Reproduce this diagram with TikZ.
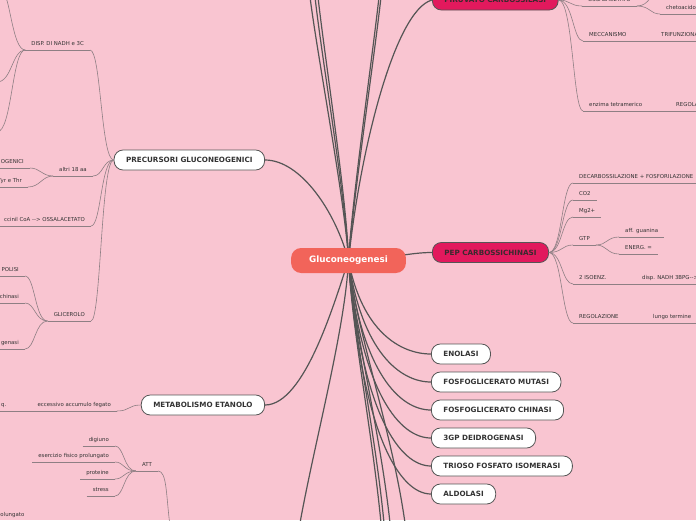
\documentclass[tikz,border=0pt]{standalone}
\usepackage{fontspec}
\setmainfont{DejaVu Sans}
\usetikzlibrary{positioning}
\pgfdeclarelayer{paper}
\pgfdeclarelayer{links}
\pgfsetlayers{paper,links,main}
\definecolor{paper}{HTML}{F9C5D1}
\definecolor{coral}{HTML}{F2645A}
\definecolor{enzred}{HTML}{E2195D}
\definecolor{enzink}{HTML}{3A2A2E}
\definecolor{ink}{HTML}{333333}
\definecolor{linkgray}{HTML}{555555}
\definecolor{twiggray}{HTML}{8E7F84}

\begin{document}
\begin{tikzpicture}[
    x=1pt, y=-1pt,
    every node/.style={text=ink},
    hub/.style={
        rectangle,
        rounded corners=10pt,
        fill=coral,
        text=white,
        font=\fontsize{8.8}{10}\selectfont\bfseries,
        minimum height=25pt,
        inner xsep=18pt
    },
    topic/.style={
        rectangle,
        rounded corners=9pt,
        draw=linkgray,
        fill=white,
        line width=0.8pt,
        font=\fontsize{7.2}{8}\selectfont\bfseries,
        minimum height=20pt,
        inner xsep=12pt
    },
    enzyme/.style={topic, fill=enzred, text=enzink},
    leaf/.style={font=\fontsize{5.4}{6}\selectfont, inner xsep=6pt, inner ysep=2.8pt, text height=4pt, text depth=1.2pt},
    leafl/.style={leaf, anchor=south east},
    leafr/.style={leaf, anchor=south west},
    link/.style={draw=linkgray, line width=1.2pt},
    twig/.style={draw=twiggray, line width=0.6pt}
]

\useasboundingbox (0,0) rectangle (696,520);
\begin{pgfonlayer}{paper}
    \fill[paper] (0,0) rectangle (696,520);
\end{pgfonlayer}
\clip (0,0) rectangle (696,520);

% MAIN TOPICS
\node[hub] (gluco) at (348.5,260.5) {Gluconeogenesi};

\node[topic, anchor=east] (prec)    at (265,160) {PRECURSORI GLUCONEOGENICI};
\node[topic, anchor=east] (etanolo) at (265,405) {METABOLISMO ETANOLO};

\node[enzyme, anchor=west] (piruvato) at (432,0)     {PIRUVATO CARBOSSILASI};
\node[enzyme, anchor=west] (pepck)    at (432,252.5) {PEP CARBOSSICHINASI};

\node[topic, anchor=west] (enolasi) at (431,354) {ENOLASI};
\node[topic, anchor=west] (mutasi)  at (431,382) {FOSFOGLICERATO MUTASI};
\node[topic, anchor=west] (pgk)     at (431,410) {FOSFOGLICERATO CHINASI};
\node[topic, anchor=west] (gapdh)   at (431,438) {3GP DEIDROGENASI};
\node[topic, anchor=west] (tpi)     at (431,466) {TRIOSO FOSFATO ISOMERASI};
\node[topic, anchor=west] (aldolasi) at (431,494) {ALDOLASI};

% branches leaving the picture
\coordinate (up1) at (310,-3);
\coordinate (up2) at (315,-3);
\coordinate (up3) at (318,-3);
\coordinate (up4) at (379,-3);
\coordinate (up5) at (381,-3);
\coordinate (dn1) at (300,523);
\coordinate (dn2) at (381,523);
\coordinate (dn3) at (384,523);
\coordinate (dn4) at (390,523);
\coordinate (dn5) at (405,523);

% LEFT LEAVES
\node[leafl] (disp)   at (90,50)   {DISP. DI NADH e 3C};
\node[leafl] (altri)  at (93,176)  {altri 18 aa};
\node[leafl] (succ)   at (91,226)  {ccinil CoA -{}-> OSSALACETATO};
\node[leafl] (glic)   at (91,321)  {GLICEROLO};
\node[leafl] (ogen)   at (30,168)  {OGENICI};
\node[leafl] (tyr)    at (28,187)  {Tyr e Thr};
\node[leafl] (polisi) at (25,276)  {POLISI};
\node[leafl] (chinasi) at (25,303) {chinasi};
\node[leafl] (genasi) at (25,349)  {genasi};
\coordinate (nadha) at (2,-8);
\coordinate (nadhb) at (-3,82);
\coordinate (nadhc) at (-3,132);

\node[leafl] (accumulo) at (117,411) {eccessivo accumulo fegato};
\node[leafl] (steat)    at (12.5,411) {q.};

\node[leafl] (att)      at (158,471) {ATT};
\node[leafl] (digiuno)  at (115,446) {digiuno};
\node[leafl] (esercizio) at (115,462) {esercizio fisico prolungato};
\node[leafl] (proteine) at (115,479) {proteine};
\node[leafl] (stress)   at (115,496) {stress};
\node[leafl] (prolung)  at (30.5,521) {olungato};
\coordinate (attpar) at (170,526);

% RIGHT LEAVES
\node[leafr] (ossal)   at (582,6)   {OSSALACETATO};
\node[leafr] (cheto)   at (660,14)  {chetoacido};
\node[leafr] (mecc)    at (583,41)  {MECCANISMO};
\node[leafr] (trifunz) at (655,41)  {TRIFUNZIONALE};
\node[leafr] (enzima)  at (583,111) {enzima tetramerico};
\node[leafr] (regol)   at (670,111) {REGOLAZIONE};
\coordinate (ossalup) at (660,-8);

\node[leafr] (decarb)  at (573,183) {DECARBOSSILAZIONE + FOSFORILAZIONE};
\node[leafr] (co2)     at (573,200) {CO2};
\node[leafr] (mg)      at (573,217) {Mg2+};
\node[leafr] (gtp)     at (573,245) {GTP};
\node[leafr] (guanina) at (619,237) {aff. guanina};
\node[leafr] (energ)   at (619,254) {ENERG. =};
\node[leafr] (isoenz)  at (573,284) {2 ISOENZ.};
\node[leafr] (nadh)    at (636,284) {disp. NADH 3BPG-{}->};
\node[leafr] (regolaz) at (573,323) {REGOLAZIONE};
\node[leafr] (lungo)   at (647,323) {lungo termine};

% UNDERLINES
\foreach \n in {disp, altri, succ, glic, ogen, tyr, polisi, chinasi, genasi,
    accumulo, steat, att, digiuno, esercizio, proteine, stress, prolung,
    ossal, cheto, mecc, trifunz, enzima, regol,
    decarb, co2, mg, gtp, guanina, energ, isoenz, nadh, regolaz, lungo}
    \draw[twig] (\n.south west) -- (\n.south east);

% MAIN CONNECTORS
\begin{pgfonlayer}{links}
\clip (0,0) rectangle (696,520);
\draw[link] (gluco.center) .. controls (335,210) and (300,160) .. (prec.east);
\draw[link] (gluco.center) .. controls (335,300) and (305,405) .. (etanolo.east);
\draw[link] (gluco.center) .. controls (360,150) and (395,10) .. (piruvato.west);
\draw[link] (gluco.center) .. controls (395,258) and (410,252.5) .. (pepck.west);
\draw[link] (gluco.center) .. controls (362,331) and (400,354) .. (enolasi.west);
\draw[link] (gluco.center) .. controls (362,352) and (400,382) .. (mutasi.west);
\draw[link] (gluco.center) .. controls (362,373) and (400,410) .. (pgk.west);
\draw[link] (gluco.center) .. controls (362,394) and (400,438) .. (gapdh.west);
\draw[link] (gluco.center) .. controls (362,415) and (400,466) .. (tpi.west);
\draw[link] (gluco.center) .. controls (362,436) and (400,494) .. (aldolasi.west);
\draw[link] (gluco.center) .. controls (345,200) and (318,60) .. (up1);
\draw[link] (gluco.center) .. controls (346,200) and (322,60) .. (up2);
\draw[link] (gluco.center) .. controls (347,200) and (325,60) .. (up3);
\draw[link] (gluco.center) .. controls (352,200) and (372,60) .. (up4);
\draw[link] (gluco.center) .. controls (353,200) and (374,60) .. (up5);
\draw[link] (gluco.center) .. controls (345,330) and (315,440) .. (dn1);
\draw[link] (gluco.center) .. controls (352,330) and (372,430) .. (dn2);
\draw[link] (gluco.center) .. controls (353,330) and (375,430) .. (dn3);
\draw[link] (gluco.center) .. controls (354,330) and (380,430) .. (dn4);
\draw[link] (gluco.center) .. controls (356,330) and (392,430) .. (dn5);
\end{pgfonlayer}

% SUB BRANCHES
\draw[twig] (prec.west) .. controls (101,160) and (101,50) .. (disp.south east);
\draw[twig] (prec.west) .. controls (103,160) and (103,176) .. (altri.south east);
\draw[twig] (prec.west) .. controls (101,160) and (101,226) .. (succ.south east);
\draw[twig] (prec.west) .. controls (101,160) and (101,321) .. (glic.south east);
\draw[twig] (disp.south west) .. controls (12,50) and (10,-8) .. (nadha);
\draw[twig] (disp.south west) .. controls (12,50) and (12,82) .. (nadhb);
\draw[twig] (disp.south west) .. controls (12,50) and (12,132) .. (nadhc);
\draw[twig] (altri.south west) .. controls (42,176) and (40,168) .. (ogen.south east);
\draw[twig] (altri.south west) .. controls (42,176) and (40,187) .. (tyr.south east);
\draw[twig] (glic.south west) .. controls (35,321) and (35,276) .. (polisi.south east);
\draw[twig] (glic.south west) .. controls (35,321) and (35,303) .. (chinasi.south east);
\draw[twig] (glic.south west) .. controls (35,321) and (35,349) .. (genasi.south east);

\draw[twig] (etanolo.west) .. controls (128,405) and (130,411) .. (accumulo.south east);
\draw[twig] (accumulo.south west) -- (steat.south east);

\draw[twig] (att.south east) .. controls (167,471) and (166,495) .. (attpar);
\draw[twig] (att.south west) .. controls (124,471) and (124,446) .. (digiuno.south east);
\draw[twig] (att.south west) .. controls (124,471) and (124,462) .. (esercizio.south east);
\draw[twig] (att.south west) .. controls (124,471) and (124,479) .. (proteine.south east);
\draw[twig] (att.south west) .. controls (124,471) and (124,496) .. (stress.south east);

\draw[twig] (piruvato.east) .. controls (570,0) and (570,6) .. (ossal.south west);
\draw[twig] (ossal.south east) .. controls (650,6) and (650,14) .. (cheto.south west);
\draw[twig] (ossal.south east) .. controls (650,6) and (650,-8) .. (ossalup);
\draw[twig] (piruvato.east) .. controls (573,0) and (573,41) .. (mecc.south west);
\draw[twig] (mecc.south east) -- (trifunz.south west);
\draw[twig] (piruvato.east) .. controls (573,0) and (573,111) .. (enzima.south west);
\draw[twig] (enzima.south east) -- (regol.south west);

\draw[twig] (pepck.east) .. controls (562,252.5) and (562,183) .. (decarb.south west);
\draw[twig] (pepck.east) .. controls (562,252.5) and (562,200) .. (co2.south west);
\draw[twig] (pepck.east) .. controls (562,252.5) and (562,217) .. (mg.south west);
\draw[twig] (pepck.east) .. controls (562,252.5) and (562,245) .. (gtp.south west);
\draw[twig] (pepck.east) .. controls (562,252.5) and (562,284) .. (isoenz.south west);
\draw[twig] (pepck.east) .. controls (562,252.5) and (562,323) .. (regolaz.south west);
\draw[twig] (gtp.south east) .. controls (607,245) and (607,237) .. (guanina.south west);
\draw[twig] (gtp.south east) .. controls (607,245) and (607,254) .. (energ.south west);
\draw[twig] (isoenz.south east) -- (nadh.south west);
\draw[twig] (regolaz.south east) -- (lungo.south west);

\end{tikzpicture}
\end{document}
